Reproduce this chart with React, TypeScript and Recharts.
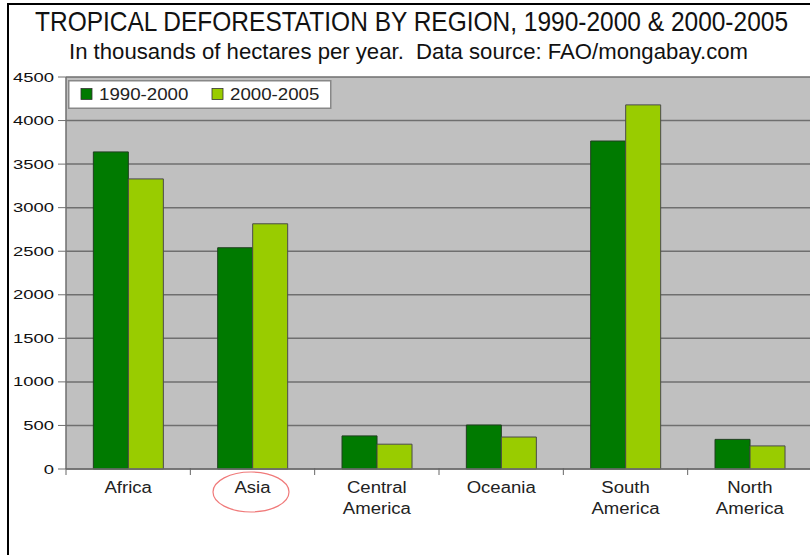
import { Bar, BarChart, CartesianGrid, Legend, XAxis, YAxis } from "recharts";

const REGIONS = ["Africa", "Asia", "Central America", "Oceania", "South America", "North America"];
const LOSS_1990_2000 = [3640, 2540, 380, 505, 3765, 340];
const LOSS_2000_2005 = [3330, 2815, 285, 367, 4180, 265];
const Y_TICKS = [0, 500, 1000, 1500, 2000, 2500, 3000, 3500, 4000, 4500];

const SERIES = [
  { key: "p1", name: "1990-2000", color: "#007a00", edge: "#1f3f1f" },
  { key: "p2", name: "2000-2005", color: "#99cc00", edge: "#4a4a4a" },
];

const data = REGIONS.map((region, i) => ({
  region,
  p1: LOSS_1990_2000[i],
  p2: LOSS_2000_2005[i],
}));

const FONT = "'Liberation Sans', Arial, sans-serif";
const NARROW = "'Liberation Sans Narrow', 'Arial Narrow', 'Liberation Sans', sans-serif";
const BAND = 124.33; // width of one category slot
const SQUEEZE = 0.82; // horizontal squeeze for the condensed headings

function YTick({ x, y, payload }: any) {
  return (
    <text
      transform={`translate(${x},${y + 4.5}) scale(1.42,1)`}
      textAnchor="end"
      fontFamily={FONT}
      fontSize={13}
      fill="#111"
    >
      {payload.value}
    </text>
  );
}

function XTick({ x, y, payload, index }: any) {
  const lines = String(payload.value).split(" ");
  const last = index === REGIONS.length - 1;
  return (
    <g>
      <line x1={x - BAND / 2} x2={x - BAND / 2} y1={y - 1} y2={y + 6} stroke="#666" />
      {last && <line x1={x + BAND / 2} x2={x + BAND / 2} y1={y - 1} y2={y + 6} stroke="#666" />}
      {payload.value === "Asia" && (
        <ellipse cx={x - 1.5} cy={y + 23} rx={38} ry={20} fill="none" stroke="#f07a7a" strokeWidth={1.2} />
      )}
      {lines.map((ln, k) => (
        <text
          key={k}
          transform={`translate(${x},${y + 24 + k * 21}) scale(1.16,1)`}
          textAnchor="middle"
          fontFamily={FONT}
          fontSize={16}
          fill="#222"
        >
          {ln}
        </text>
      ))}
    </g>
  );
}

function LegendBox({ payload }: any) {
  const xs = [13, 144];
  return (
    <svg width={264} height={30} style={{ display: "block" }}>
      <rect x={0.75} y={0.75} width={262} height={27.5} fill="#fff" stroke="#888" strokeWidth={1.5} />
      {(payload || []).map((p: any, i: number) => (
        <g key={p.value}>
          <rect x={xs[i]} y={8.5} width={11} height={11} fill={p.color} stroke="#333" strokeWidth={0.8} />
          <text
            transform={`translate(${xs[i] + 18},20) scale(1.1,1)`}
            fontFamily={FONT}
            fontSize={17}
            fill="#222"
          >
            {p.value}
          </text>
        </g>
      ))}
    </svg>
  );
}

export default function App() {
  return (
    <div style={{ position: "relative", width: 810, height: 555, overflow: "hidden", background: "#fff" }}>
      <style>{`body{margin:0}`}</style>
      <div style={{ position: "absolute", left: 7, top: 3, width: 803, height: 2, background: "#000" }} />
      <div style={{ position: "absolute", left: 7, top: 3, width: 2, height: 552, background: "#000" }} />
      <svg width={810} height={70} style={{ position: "absolute", left: 0, top: 0 }}>
        <text
          transform={`translate(35,30.5) scale(${SQUEEZE},1)`}
          fontFamily={NARROW}
          fontSize={27}
          fill="#111"
          textLength={753 / SQUEEZE}
          lengthAdjust="spacingAndGlyphs"
        >
          TROPICAL DEFORESTATION BY REGION, 1990-2000 &amp; 2000-2005
        </text>
        <text
          transform={`translate(69,59) scale(${SQUEEZE},1)`}
          fontFamily={NARROW}
          fontSize={22}
          fill="#111"
          textLength={679 / SQUEEZE}
          lengthAdjust="spacingAndGlyphs"
          style={{ whiteSpace: "pre" }}
        >
          {"In thousands of hectares per year.  Data source: FAO/mongabay.com"}
        </text>
      </svg>
      <div style={{ position: "absolute", left: 0, top: 0 }}>
        <BarChart
          width={830}
          height={555}
          data={data}
          margin={{ top: 77, right: 18, bottom: 26, left: 0 }}
          barCategoryGap="22%"
          barGap={0}
        >
          <CartesianGrid vertical={false} fill="#c0c0c0" stroke="#6f6f6f" strokeWidth={1.5} />
          <XAxis
            dataKey="region"
            height={60}
            tickLine={false}
            tickSize={0}
            tickMargin={0}
            axisLine={{ stroke: "#6f6f6f", strokeWidth: 1.5 }}
            tick={<XTick />}
            interval={0}
          />
          <YAxis
            width={66}
            domain={[0, 4500]}
            ticks={Y_TICKS}
            interval={0}
            tickSize={8}
            tickMargin={4}
            axisLine={{ stroke: "#6f6f6f", strokeWidth: 1.5 }}
            tickLine={{ stroke: "#6f6f6f" }}
            tick={<YTick />}
          />
          <Legend
            layout="horizontal"
            verticalAlign="middle"
            align="center"
            wrapperStyle={{ left: 68, top: 80, width: 264, height: 30 }}
            content={<LegendBox />}
          />
          {SERIES.map((s) => (
            <Bar
              key={s.key}
              dataKey={s.key}
              name={s.name}
              fill={s.color}
              stroke={s.edge}
              strokeWidth={1}
              isAnimationActive={false}
            />
          ))}
        </BarChart>
      </div>
    </div>
  );
}
